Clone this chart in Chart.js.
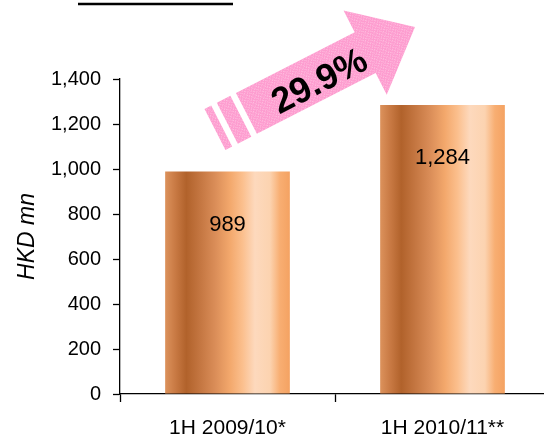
<!DOCTYPE html>
<html>
<head>
<meta charset="utf-8">
<script src="https://cdn.jsdelivr.net/npm/chart.js@4"></script>
<style>
  html, body { margin: 0; padding: 0; overflow: hidden; background: #fff; }
  #wrap { width: 544px; height: 442px; overflow: hidden; position: relative; }
  canvas { display: block; }
</style>
</head>
<body>
<div id="wrap"><canvas id="c" width="550" height="442"></canvas></div>
<script>
// Half-year revenue, HKD million
const categories = ['1H 2009/10*', '1H 2010/11**'];
const revenue = [989, 1284];
const yTickValues = [0, 200, 400, 600, 800, 1000, 1200, 1400];
const growthLabel = '29.9%';

const FONT = '"Liberation Sans", Arial, sans-serif';
const fmt = v => v.toLocaleString('en-US');

// copper cylinder shading, left to right
const copperStops = [
  [0.00, '#dc925c'], [0.08, '#c97a44'], [0.17, '#b1622b'], [0.28, '#c47641'],
  [0.40, '#da8d58'], [0.52, '#f3a86c'], [0.62, '#fbbf8d'], [0.72, '#fdd9bd'],
  [0.84, '#fcd3b0'], [0.92, '#f8ae72'], [1.00, '#f4a262']
];
const BAR_PCT = 0.58;

function copperFill(context) {
  const chart = context.chart;
  const { ctx, chartArea, scales } = chart;
  if (!chartArea || !scales.x) return '#d98c55';
  const slot = chartArea.width / categories.length;
  const w = slot * BAR_PCT;
  const cx = scales.x.getPixelForValue(context.dataIndex);
  const g = ctx.createLinearGradient(cx - w / 2, 0, cx + w / 2, 0);
  copperStops.forEach(([p, c]) => g.addColorStop(p, c));
  return g;
}

// grainy pink fill for the growth arrow
function pinkPattern(ctx) {
  const t = document.createElement('canvas');
  t.width = 4; t.height = 4;
  const p = t.getContext('2d');
  p.fillStyle = '#fd9ccf';
  p.fillRect(0, 0, 4, 4);
  p.fillStyle = '#ffbfe0';
  [[0, 0], [2, 1], [1, 2], [3, 3]].forEach(([x, y]) => p.fillRect(x, y, 1, 1));
  return ctx.createPattern(t, 'repeat');
}

const decorations = {
  id: 'decorations',
  afterDatasetsDraw(chart) {
    const { ctx, scales } = chart;
    const x = scales.x, y = scales.y;

    // values inside the bars
    ctx.save();
    ctx.fillStyle = '#000';
    ctx.font = '22px ' + FONT;
    ctx.textAlign = 'center';
    ctx.textBaseline = 'middle';
    revenue.forEach((v, i) => {
      ctx.fillText(fmt(v), x.getPixelForValue(i), y.getPixelForValue(v) + 53);
    });
    ctx.restore();

    // growth arrow from the first bar towards the second
    const tx = x.getPixelForValue(0) - 12.5, ty = y.getPixelForValue(revenue[0]) - 42;
    const hx = x.getPixelForValue(1) - 27.5, hy = y.getPixelForValue(revenue[1]) - 78;
    const len = Math.hypot(hx - tx, hy - ty);
    const ang = Math.atan2(hy - ty, hx - tx);
    const hw = 23, headW = 47.4, headLen = 56;

    ctx.save();
    ctx.translate(tx, ty);
    ctx.rotate(ang);
    ctx.fillStyle = pinkPattern(ctx);
    ctx.fillRect(0, -hw, 7.5, hw * 2);
    ctx.fillRect(13.8, -hw, 15.2, hw * 2);
    ctx.beginPath();
    ctx.moveTo(35.3, -hw);
    ctx.lineTo(len - headLen, -hw);
    ctx.lineTo(len - headLen, -headW);
    ctx.lineTo(len, 0);
    ctx.lineTo(len - headLen, headW);
    ctx.lineTo(len - headLen, hw);
    ctx.lineTo(35.3, hw);
    ctx.closePath();
    ctx.fill();

    ctx.fillStyle = '#000';
    ctx.font = 'bold 36px ' + FONT;
    ctx.textAlign = 'center';
    ctx.textBaseline = 'middle';
    ctx.fillText(growthLabel, 115, 6);
    ctx.restore();

    // heading rule
    ctx.save();
    ctx.strokeStyle = '#000';
    ctx.lineWidth = 2.5;
    ctx.beginPath();
    ctx.moveTo(78, 4);
    ctx.lineTo(233, 4);
    ctx.stroke();
    ctx.restore();
  }
};

new Chart(document.getElementById('c'), {
  type: 'bar',
  data: {
    labels: categories,
    datasets: [{
      data: revenue,
      backgroundColor: copperFill,
      borderWidth: 0,
      barPercentage: BAR_PCT,
      categoryPercentage: 1
    }]
  },
  options: {
    responsive: false,
    animation: false,
    layout: { padding: { top: 79, left: 0, right: 0, bottom: 0 } },
    plugins: { legend: { display: false }, tooltip: { enabled: false } },
    scales: {
      x: {
        offset: true,
        grid: { display: true, drawOnChartArea: false, offset: true, tickLength: 8, tickColor: '#000', tickWidth: 1.3 },
        border: { display: true, color: '#000', width: 1.3 },
        ticks: { color: '#000', font: { family: FONT, size: 21 }, padding: 14, maxRotation: 0 },
        afterFit(scale) { scale.height = 48; }
      },
      y: {
        min: 0,
        max: 1400,
        afterBuildTicks(scale) { scale.ticks = yTickValues.map(v => ({ value: v })); },
        grid: { display: true, drawOnChartArea: false, tickLength: 7, tickColor: '#000', tickWidth: 1.3 },
        border: { display: true, color: '#000', width: 1.3 },
        ticks: { color: '#000', font: { family: FONT, size: 20 }, padding: 12, callback: v => fmt(v) },
        title: {
          display: true,
          text: 'HKD mn',
          color: '#000',
          font: { family: FONT, size: 23, style: 'italic' },
          padding: { top: 14, bottom: 0 }
        },
        afterFit(scale) { scale.width = 120; }
      }
    }
  },
  plugins: [decorations]
});
</script>
</body>
</html>
